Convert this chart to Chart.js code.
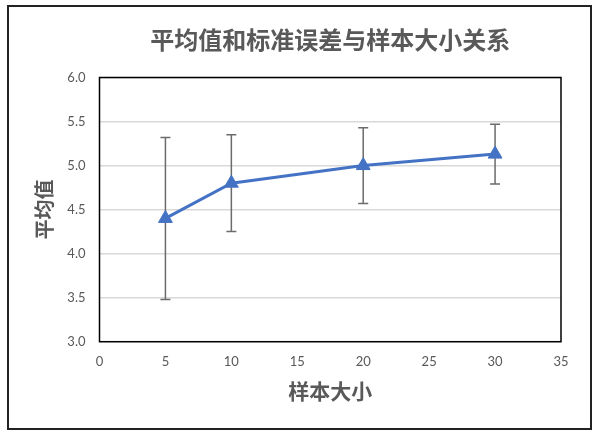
<!DOCTYPE html>
<html>
<head>
<meta charset="utf-8">
<script src="https://cdn.jsdelivr.net/npm/chart.js@4/dist/chart.umd.min.js"></script>
<style>
  html, body { margin: 0; padding: 0; background: #fff; }
  #wrap { position: relative; width: 600px; height: 439px; }
  #frame {
    position: absolute; left: 7px; top: 5px; width: 581px; height: 421px;
    border: 2px solid #222; pointer-events: none;
  }
</style>
</head>
<body>
<div id="wrap">
  <canvas id="myChart" width="600" height="439"></canvas>
  <div id="frame"></div>
</div>
<script>
const sampleSizes = [5, 10, 20, 30];
const means = [4.4, 4.8, 5.0, 5.13];
const stdErrors = [0.92, 0.55, 0.43, 0.34];
const yTicks = [3.0, 3.5, 4.0, 4.5, 5.0, 5.5, 6.0];

const CJK = '"Noto Sans CJK SC", "Noto Sans", sans-serif';
const TXT = '#595959';

// error bars + plot box, drawn through the chart's scales
const errorBars = {
  id: 'errorBars',
  beforeDatasetsDraw(chart) {
    const { ctx, chartArea, scales: { x, y } } = chart;
    ctx.save();
    ctx.strokeStyle = '#000';
    ctx.lineWidth = 1.5;
    ctx.strokeRect(chartArea.left, chartArea.top, chartArea.right - chartArea.left, chartArea.bottom - chartArea.top);

    ctx.strokeStyle = '#6b6b6b';
    ctx.lineWidth = 1.5;
    sampleSizes.forEach((n, i) => {
      const px = x.getPixelForValue(n);
      const top = y.getPixelForValue(means[i] + stdErrors[i]);
      const bot = y.getPixelForValue(means[i] - stdErrors[i]);
      ctx.beginPath();
      ctx.moveTo(px, top); ctx.lineTo(px, bot);
      ctx.moveTo(px - 5, top); ctx.lineTo(px + 5, top);
      ctx.moveTo(px - 5, bot); ctx.lineTo(px + 5, bot);
      ctx.stroke();
    });
    ctx.restore();
  }
};

new Chart(document.getElementById('myChart'), {
  type: 'line',
  data: {
    datasets: [{
      label: '平均值',
      data: sampleSizes.map((n, i) => ({ x: n, y: means[i] })),
      borderColor: '#4472C4',
      backgroundColor: '#4472C4',
      borderWidth: 3,
      pointStyle: 'triangle',
      pointRadius: 8,
      pointBorderWidth: 1,
      tension: 0,
    }]
  },
  options: {
    responsive: false,
    animation: false,
    layout: { padding: { left: 0, right: 39, top: 0, bottom: 0 } },
    plugins: {
      legend: { display: false },
      tooltip: { enabled: false },
      title: {
        display: true,
        text: '平均值和标准误差与样本大小关系',
        fullSize: false,
        color: TXT,
        font: { family: CJK, size: 24, weight: 'bold' },
        padding: { top: 25, bottom: 23.7 },
      },
    },
    scales: {
      x: {
        type: 'linear',
        min: 0,
        max: 35,
        afterFit(scale) { scale.height = 97.3; },
        ticks: {
          stepSize: 5,
          padding: 12,
          color: TXT,
          font: { family: 'Lato', size: 13 },
        },
        grid: { display: false, drawTicks: false },
        border: { display: false },
        title: {
          display: true,
          text: '样本大小',
          color: TXT,
          font: { family: CJK, size: 21, weight: 'bold' },
          padding: { top: 0, bottom: 35 },
        },
      },
      y: {
        min: 3,
        max: 6,
        afterFit(scale) { scale.width = 99.5; },
        afterBuildTicks(scale) { scale.ticks = yTicks.map(v => ({ value: v })); },
        ticks: {
          padding: 14,
          color: TXT,
          font: { family: 'Lato', size: 13 },
          callback: v => v.toFixed(1),
        },
        grid: { color: '#d9d9d9', lineWidth: 1.5, drawTicks: false },
        border: { display: false },
        title: {
          display: true,
          text: '平均值',
          color: TXT,
          font: { family: CJK, size: 20, weight: 'bold' },
          padding: { top: 32, bottom: 0 },
        },
      }
    }
  },
  plugins: [errorBars]
});
</script>
</body>
</html>
